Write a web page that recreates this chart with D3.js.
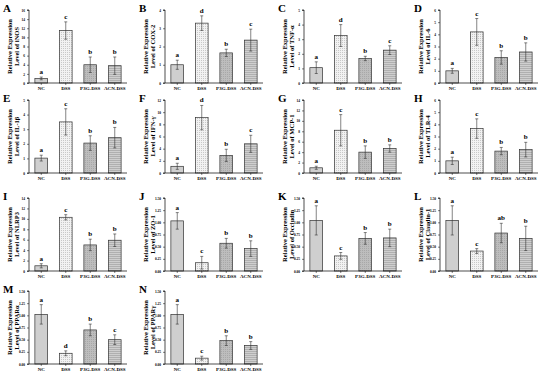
<!DOCTYPE html>
<html>
<head>
<meta charset="utf-8">
<script src="https://cdn.jsdelivr.net/npm/d3@7"></script>
<style>
  body { margin: 0; background: #fff; }
  svg { display: block; }
  text { font-family: "Liberation Serif", "DejaVu Serif", serif; font-weight: bold; fill: #000; }
</style>
</head>
<body>
<div id="chart"></div>
<script>
// Groups and panels.
const groups = ['NC', 'DSS', 'P3G-DSS', 'ACN-DSS'];
const panelLetters = ['A', 'B', 'C', 'D', 'E', 'F', 'G', 'H', 'I', 'J', 'K', 'L', 'M', 'N'];
const genes = ['iNOS', 'COX-2', 'TNF-α', 'IL-6', 'IL-1β', 'IFN-γ', 'MCP-1', 'TLR-4',
    'NLRP3', 'ZO-1', 'Occludin', 'Claudin-1', 'PPARα', 'PPARγ'];

// Mean relative expression per panel (NC, DSS, P3G-DSS, ACN-DSS).
const means = [
    [1.0, 11.5, 4.0, 3.8],
    [1.0, 3.28, 1.65, 2.35],
    [1.05, 3.25, 1.68, 2.25],
    [1.0, 4.2, 2.1, 2.55],
    [1.02, 3.5, 2.05, 2.42],
    [1.1, 9.1, 2.9, 4.8],
    [1.0, 8.2, 4.0, 4.7],
    [1.0, 3.65, 1.8, 1.92],
    [1.0, 10.3, 5.0, 5.9],
    [1.03, 0.17, 0.57, 0.46],
    [1.04, 0.31, 0.67, 0.68],
    [1.04, 0.41, 0.78, 0.67],
    [1.02, 0.22, 0.7, 0.5],
    [1.02, 0.12, 0.48, 0.38]
];
// Error bar half-lengths.
const errors = [
    [0.3, 1.9, 1.7, 1.9],
    [0.25, 0.4, 0.2, 0.6],
    [0.4, 0.75, 0.15, 0.3],
    [0.2, 1.1, 0.55, 0.75],
    [0.2, 0.9, 0.5, 0.7],
    [0.5, 2.0, 1.0, 1.4],
    [0.3, 3.0, 1.2, 0.7],
    [0.3, 0.8, 0.3, 0.6],
    [0.4, 0.5, 1.1, 1.2],
    [0.17, 0.13, 0.1, 0.16],
    [0.3, 0.07, 0.12, 0.18],
    [0.3, 0.05, 0.2, 0.25],
    [0.2, 0.05, 0.12, 0.1],
    [0.2, 0.04, 0.1, 0.08]
];
// Significance letters.
const sigLetters = [
    ['a', 'c', 'b', 'b'], ['a', 'd', 'b', 'c'], ['a', 'd', 'b', 'c'], ['a', 'c', 'b', 'b'],
    ['a', 'c', 'b', 'b'], ['a', 'd', 'b', 'c'], ['a', 'c', 'b', 'b'], ['a', 'c', 'b', 'b'],
    ['a', 'c', 'b', 'b'], ['a', 'c', 'b', 'b'], ['a', 'c', 'b', 'b'], ['a', 'c', 'ab', 'b'],
    ['a', 'd', 'b', 'c'], ['a', 'c', 'b', 'b']
];
// Y axis maximum and tick step for each panel.
const yMaxes = [16, 4, 5, 6, 5, 12, 14, 6, 14, 1.5, 1.5, 1.5, 1.5, 1.5];
const yStep = [2, 1, 1, 1, 1, 2, 2, 1, 2, 0.25, 0.25, 0.25, 0.25, 0.25];

const W = 554, H = 386;
const colX = [29, 165, 304, 440];   // y axis position per column
const rowY = [10, 100, 198, 291];   // plot top per row
const plotW = 98, plotH = 73;

const svg = d3.select('#chart').append('svg')
    .attr('width', W)
    .attr('height', H);

// Bar fill patterns.
const defs = svg.append('defs');
const pDots = defs.append('pattern').attr('id', 'pDots')
    .attr('width', 2).attr('height', 2).attr('patternUnits', 'userSpaceOnUse');
pDots.append('rect').attr('width', 2).attr('height', 2).attr('fill', '#f2f2f2');
pDots.append('rect').attr('width', 1).attr('height', 1).attr('fill', '#c8c8c8');
const pCross = defs.append('pattern').attr('id', 'pCross')
    .attr('width', 2).attr('height', 2).attr('patternUnits', 'userSpaceOnUse');
pCross.append('rect').attr('width', 2).attr('height', 2).attr('fill', '#bdbdbd');
pCross.append('rect').attr('width', 1).attr('height', 1).attr('fill', '#a8a8a8');
const pLines = defs.append('pattern').attr('id', 'pLines')
    .attr('width', 2).attr('height', 2).attr('patternUnits', 'userSpaceOnUse');
pLines.append('rect').attr('width', 2).attr('height', 2).attr('fill', '#cfcfcf');
pLines.append('rect').attr('width', 2).attr('height', 1).attr('fill', '#b0b0b0');
const fills = ['#cfcfcf', 'url(#pDots)', 'url(#pCross)', 'url(#pLines)'];

panelLetters.forEach((letter, i) => {
    const col = i % 4, row = Math.floor(i / 4);
    const g = svg.append('g')
        .attr('transform', `translate(${colX[col]},${rowY[row]})`);

    const x = d3.scaleBand()
        .domain(groups)
        .range([0, plotW])
        .paddingInner(0.48)
        .paddingOuter(0.24);
    const y = d3.scaleLinear()
        .domain([0, yMaxes[i]])
        .range([plotH, 0]);

    const data = groups.map((grp, j) => ({grp, mean: means[i][j], err: errors[i][j], sig: sigLetters[i][j], fill: fills[j]}));

    // Bars.
    g.selectAll('rect.bar')
        .data(data)
        .enter()
        .append('rect')
            .attr('class', 'bar')
            .attr('x', d => x(d.grp))
            .attr('y', d => y(d.mean))
            .attr('width', x.bandwidth())
            .attr('height', d => plotH - y(d.mean))
            .attr('fill', d => d.fill)
            .attr('stroke', '#333')
            .attr('stroke-width', 0.7);

    // Error bars.
    const eb = g.selectAll('g.err')
        .data(data)
        .enter()
        .append('g')
            .attr('class', 'err')
            .attr('stroke', '#333')
            .attr('stroke-width', 0.6);
    eb.append('line')
        .attr('x1', d => x(d.grp) + x.bandwidth() / 2)
        .attr('x2', d => x(d.grp) + x.bandwidth() / 2)
        .attr('y1', d => y(Math.max(0, d.mean - d.err)))
        .attr('y2', d => y(d.mean + d.err));
    eb.append('line')
        .attr('x1', d => x(d.grp) + x.bandwidth() / 2 - 1.5)
        .attr('x2', d => x(d.grp) + x.bandwidth() / 2 + 1.5)
        .attr('y1', d => y(d.mean + d.err))
        .attr('y2', d => y(d.mean + d.err));
    eb.append('line')
        .attr('x1', d => x(d.grp) + x.bandwidth() / 2 - 1.5)
        .attr('x2', d => x(d.grp) + x.bandwidth() / 2 + 1.5)
        .attr('y1', d => y(Math.max(0, d.mean - d.err)))
        .attr('y2', d => y(Math.max(0, d.mean - d.err)));

    // Significance letters.
    g.selectAll('text.sig')
        .data(data)
        .enter()
        .append('text')
            .attr('class', 'sig')
            .attr('x', d => x(d.grp) + x.bandwidth() / 2)
            .attr('y', d => y(d.mean + d.err) - 3)
            .attr('text-anchor', 'middle')
            .attr('fill', '#000')
            .style('font-size', '7px')
            .text(d => d.sig);

    // Y axis.
    const ticks = d3.range(0, yMaxes[i] + yStep[i] / 2, yStep[i]);
    const yAxis = g.append('g')
        .call(d3.axisLeft(y)
            .tickValues(ticks)
            .tickSize(2)
            .tickPadding(2)
            .tickFormat(yStep[i] < 1 ? d3.format('.2f') : d3.format('d')));
    yAxis.select('.domain').attr('stroke-width', 0.7).attr('d', `M-2,0H0V${plotH}H-2`);
    yAxis.selectAll('text').style('font-size', '3.5px').attr('fill', '#333');
    yAxis.selectAll('line').attr('stroke-width', 0.5);

    // X axis.
    const xAxis = g.append('g')
        .attr('transform', `translate(0,${plotH})`)
        .call(d3.axisBottom(x).tickSize(2).tickPadding(1.5));
    xAxis.select('.domain').attr('stroke-width', 0.7).attr('d', `M0,0H${plotW}`);
    xAxis.selectAll('line').attr('stroke-width', 0.5);
    xAxis.selectAll('text').style('font-size', '5px').attr('fill', '#111');

    // Y axis title.
    const yMid = plotH / 2;
    g.append('text')
        .attr('transform', `translate(-17,${yMid}) rotate(-90)`)
        .attr('text-anchor', 'middle')
        .style('font-size', '6.5px')
        .text('Relative Expression');
    g.append('text')
        .attr('transform', `translate(-10,${yMid}) rotate(-90)`)
        .attr('text-anchor', 'middle')
        .style('font-size', '6.5px')
        .text(`Level of ${genes[i]}`);

    // Panel letter.
    g.append('text')
        .attr('x', -26)
        .attr('y', 2)
        .style('font-size', '11px')
        .text(letter);
});
</script>
</body>
</html>
